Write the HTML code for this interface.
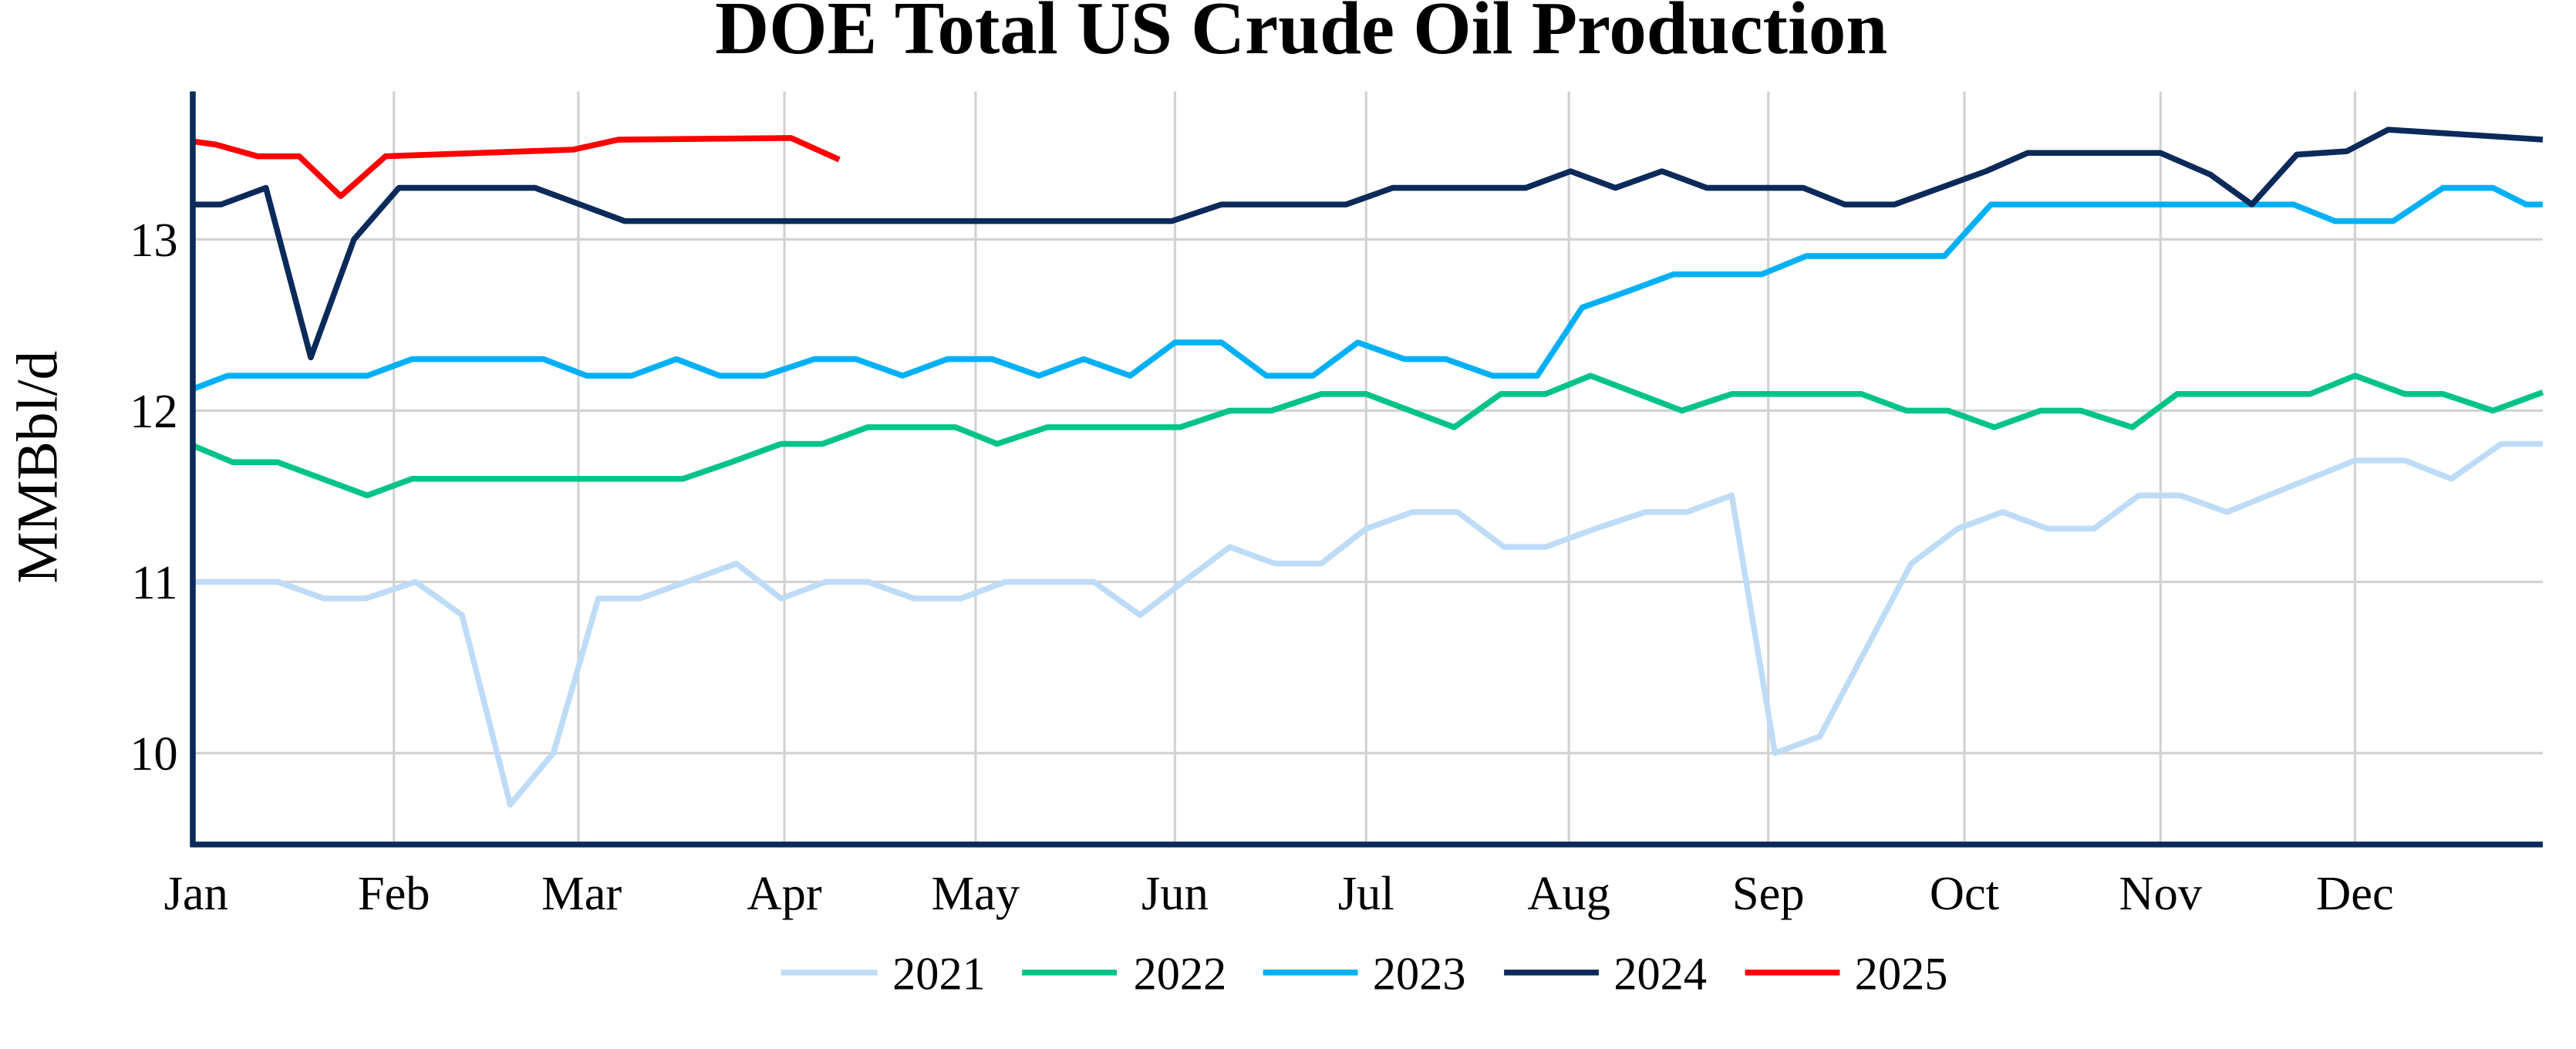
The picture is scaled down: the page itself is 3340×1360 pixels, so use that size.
<!DOCTYPE html>
<html><head><meta charset="utf-8"><style>html,body{margin:0;padding:0;background:#fff;}svg{display:block;}</style></head>
<body>
<svg width="3340" height="1360" viewBox="0 0 1550 631" preserveAspectRatio="none" xmlns="http://www.w3.org/2000/svg" font-family="'Liberation Serif', serif">
<rect width="1550" height="631" fill="#fff"/>
<text x="783" y="32" font-size="45" font-weight="bold" text-anchor="middle">DOE Total US Crude Oil Production</text>
<g stroke="#d3d3d3" stroke-width="1.5">
<line x1="116" y1="144" x2="1530" y2="144"/><line x1="116" y1="247" x2="1530" y2="247"/><line x1="116" y1="350" x2="1530" y2="350"/><line x1="116" y1="453" x2="1530" y2="453"/>
<line x1="237" y1="55" x2="237" y2="508"/><line x1="348" y1="55" x2="348" y2="508"/><line x1="472" y1="55" x2="472" y2="508"/><line x1="587" y1="55" x2="587" y2="508"/><line x1="707" y1="55" x2="707" y2="508"/><line x1="822" y1="55" x2="822" y2="508"/><line x1="944" y1="55" x2="944" y2="508"/><line x1="1064" y1="55" x2="1064" y2="508"/><line x1="1182" y1="55" x2="1182" y2="508"/><line x1="1300" y1="55" x2="1300" y2="508"/><line x1="1417" y1="55" x2="1417" y2="508"/>
</g>
<g font-size="29" text-anchor="end">
<text x="107" y="154">13</text><text x="107" y="257">12</text><text x="107" y="360">11</text><text x="107" y="463">10</text>
</g>
<text transform="translate(34,281) rotate(-90)" font-size="35" text-anchor="middle">MMBbl/d</text>
<g font-size="29" text-anchor="middle">
<text x="118" y="547">Jan</text><text x="237" y="547">Feb</text><text x="350" y="547">Mar</text><text x="472" y="547">Apr</text><text x="587" y="547">May</text><text x="707" y="547">Jun</text><text x="822" y="547">Jul</text><text x="944" y="547">Aug</text><text x="1064" y="547">Sep</text><text x="1182" y="547">Oct</text><text x="1300" y="547">Nov</text><text x="1417" y="547">Dec</text>
</g>
<g fill="none" stroke-width="3.5" stroke-linejoin="round">
<polyline stroke="#bfdcf7" points="116,350 167,350 195,360 220,360 250,350 278,370 307,484 333,453 360,360 385,360 413,350 443,339 470,360 497,350 522,350 550,360 578,360 605,350 658,350 686,370 712,350 740,329 767,339 795,339 822,318 850,308 877,308 905,329 930,329 960,318 990,308 1015,308 1042,298 1068,453 1095,443 1150,339 1178,318 1205,308 1232,318 1260,318 1287,298 1312,298 1340,308 1417,277 1447,277 1475,288 1505,267 1530,267"/>
<polyline stroke="#00c389" points="116,268 140,278 167,278 221,298 248,288 411,288 440,278 470,267 495,267 522,257 575,257 600,267 630,257 710,257 740,247 765,247 795,237 822,237 875,257 903,237 930,237 957,226 1012,247 1042,237 1120,237 1147,247 1172,247 1200,257 1228,247 1252,247 1283,257 1310,237 1390,237 1417,226 1447,237 1470,237 1500,247 1530,236"/>
<polyline stroke="#00b0f6" points="116,234 137,226 221,226 248,216 327,216 353,226 380,226 407,216 433,226 460,226 490,216 515,216 543,226 570,216 597,216 625,226 652,216 680,226 707,206 735,206 762,226 790,226 817,206 845,216 870,216 898,226 925,226 952,185 980,175 1007,165 1060,165 1087,154 1170,154 1198,123 1380,123 1405,133 1440,133 1470,113 1500,113 1520,123 1530,123"/>
<polyline stroke="#0b2a5a" points="116,123 133,123 160,113 187,215 213,144 240,113 322,113 376,133 705,133 735,123 810,123 838,113 918,113 945,103 972,113 1000,103 1027,113 1085,113 1110,123 1140,123 1195,103 1220,92 1300,92 1330,105 1355,123 1382,93 1412,91 1437,78 1500,82 1530,84"/>
<polyline stroke="#ff0000" points="116,85 130,87 155,94 180,94 205,118 232,94 345,90 372,84 476,83 505,96"/>
</g>
<g stroke="#0b2a5a" stroke-width="3.5">
<line x1="116" y1="55" x2="116" y2="509.5"/><line x1="114.5" y1="508" x2="1530" y2="508"/>
</g>
<g stroke-width="3.5">
<line x1="470" y1="585" x2="528" y2="585" stroke="#bfdcf7"/>
<line x1="615" y1="585" x2="672" y2="585" stroke="#00c389"/>
<line x1="760" y1="585" x2="817" y2="585" stroke="#00b0f6"/>
<line x1="905" y1="585" x2="962" y2="585" stroke="#0b2a5a"/>
<line x1="1050" y1="585" x2="1107" y2="585" stroke="#ff0000"/>
</g>
<g font-size="28">
<text x="537" y="595">2021</text><text x="682" y="595">2022</text><text x="826" y="595">2023</text><text x="971" y="595">2024</text><text x="1116" y="595">2025</text>
</g>
</svg>
</body></html>
